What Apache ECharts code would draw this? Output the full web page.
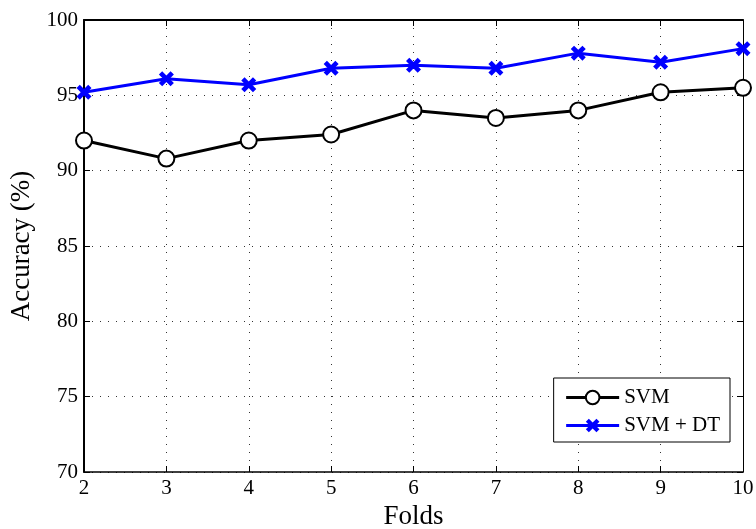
<!DOCTYPE html>
<html>
<head>
<meta charset="utf-8">
<script src="https://cdn.jsdelivr.net/npm/echarts@6/dist/echarts.min.js"></script>
<style>
  html, body { margin: 0; padding: 0; background: #fff; }
  #chart { width: 756px; height: 529px; }
</style>
</head>
<body>
<div id="chart"></div>
<script>
// Cross-validation folds and accuracy per method
const folds = [2, 3, 4, 5, 6, 7, 8, 9, 10];
const svmAccuracy = [92.0, 90.8, 92.0, 92.4, 94.0, 93.5, 94.0, 95.2, 95.5];
const svmDtAccuracy = [95.2, 96.1, 95.7, 96.8, 97.0, 96.8, 97.8, 97.2, 98.1];
const seriesNames = ['SVM', 'SVM + DT'];

const FONT = '"Liberation Serif", "DejaVu Serif", serif';
// Filled "x" marker shape
const CROSS = 'path://M0,2.2L2.2,0L5,2.8L7.8,0L10,2.2L7.2,5L10,7.8L7.8,10L5,7.2L2.2,10L0,7.8L2.8,5Z';

const chart = echarts.init(document.getElementById('chart'), null, { renderer: 'canvas' });

const pairs = arr => folds.map((f, i) => [f, arr[i]]);

const gridLine = { show: true, lineStyle: { color: '#333', type: [1, 7], width: 1 } };
const innerTick = { show: true, inside: true, length: 6, lineStyle: { color: '#000', width: 1 } };

chart.setOption({
  animation: false,
  backgroundColor: '#fff',
  grid: { left: 84, right: 13, top: 20, bottom: 57, containLabel: false, outerBoundsMode: 'none' },
  legend: {
    right: 26, top: 378,
    orient: 'vertical',
    backgroundColor: '#fff',
    borderColor: '#000', borderWidth: 1, borderRadius: 0,
    padding: [9, 10, 6, 11],
    itemGap: 7,
    itemWidth: 53, itemHeight: 17,
    lineStyle: { width: 3 },
    textStyle: { fontFamily: FONT, fontSize: 21, color: '#000' },
    data: seriesNames
  },
  xAxis: [{
    type: 'value', min: 2, max: 10, interval: 1,
    name: 'Folds', nameLocation: 'middle', nameGap: 28,
    nameTextStyle: { fontFamily: FONT, fontSize: 27, color: '#000' },
    axisLine: { show: true, lineStyle: { color: '#000', width: 1.5 } },
    axisTick: innerTick,
    axisLabel: { fontFamily: FONT, fontSize: 21, color: '#000', margin: 6 },
    splitLine: gridLine
  }, {
    type: 'value', min: 2, max: 10, interval: 1, position: 'top',
    axisLine: { show: true, onZero: false, lineStyle: { color: '#000', width: 2 } },
    axisTick: innerTick,
    axisLabel: { show: false }, splitLine: { show: false }
  }],
  yAxis: [{
    type: 'value', min: 70, max: 100, interval: 5,
    name: 'Accuracy (%)', nameLocation: 'middle', nameGap: 46,
    nameTextStyle: { fontFamily: FONT, fontSize: 27, color: '#000' },
    axisLine: { show: true, lineStyle: { color: '#000', width: 2 } },
    axisTick: innerTick,
    axisLabel: { fontFamily: FONT, fontSize: 21, color: '#000', margin: 6 },
    splitLine: gridLine
  }, {
    type: 'value', min: 70, max: 100, interval: 5, position: 'right',
    axisLine: { show: true, onZero: false, lineStyle: { color: '#000', width: 1 } },
    axisTick: innerTick,
    axisLabel: { show: false }, splitLine: { show: false }
  }],
  series: [{
    name: seriesNames[0], type: 'line', data: pairs(svmAccuracy),
    symbol: 'emptyCircle', symbolSize: 16,
    lineStyle: { color: '#000', width: 3 },
    itemStyle: { color: '#000', borderColor: '#000', borderWidth: 3 },
    z: 3
  }, {
    name: seriesNames[1], type: 'line', data: pairs(svmDtAccuracy),
    symbol: CROSS, symbolSize: 15,
    lineStyle: { color: '#0000ff', width: 3 },
    itemStyle: { color: '#0000ff' },
    z: 4
  }]
});
</script>
</body>
</html>
